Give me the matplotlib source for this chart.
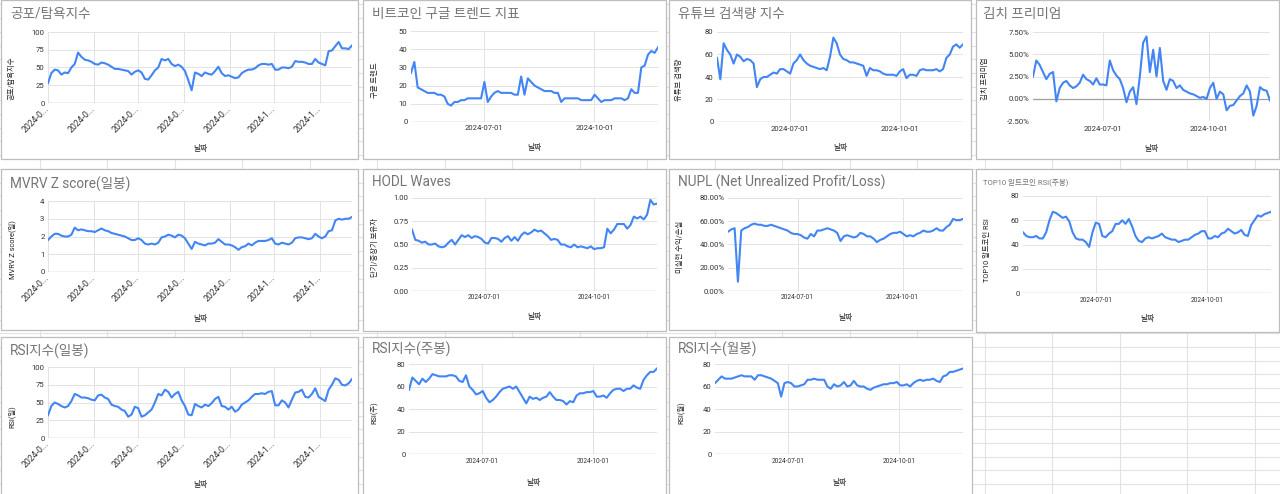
import numpy as np
import pandas as pd
import matplotlib
matplotlib.use("Agg")
import matplotlib.pyplot as plt
import matplotlib.dates as mdates
from matplotlib.patches import Rectangle
from matplotlib.ticker import FuncFormatter

plt.rcParams['font.family'] = ['Roboto', 'Noto Sans CJK KR', 'DejaVu Sans']

# date span shown in every chart
start_date = '2024-05-01'
end_date = '2024-11-23'

# values (roughly every 2-3 days)
fear_greed = [28, 42, 47, 46, 40, 43, 42, 50, 55, 71, 65, 61, 60, 58, 55, 54, 57, 56, 54, 51,
              48, 48, 47, 46, 45, 40, 44, 46, 43, 34, 33, 39, 46, 50, 62, 60, 62, 55, 52, 54,
              51, 45, 32, 18, 43, 41, 38, 43, 41, 40, 45, 51, 42, 38, 39, 37, 35, 36, 42, 45,
              47, 47, 49, 53, 55, 55, 54, 55, 47, 47, 50, 50, 49, 51, 59, 58, 58, 57, 55, 55,
              62, 57, 55, 53, 73, 74, 80, 86, 77, 77, 76, 81]

google_trend = [27, 33, 19, 18, 17, 16, 16, 16, 15, 15, 14, 10, 9, 11, 11, 12, 12, 13, 13, 13,
                13, 13, 22, 11, 14, 16, 17, 16, 16, 16, 16, 15, 15, 25, 15, 24, 22, 20, 19, 18,
                17, 17, 17, 16, 16, 11, 13, 13, 13, 13, 13, 12, 12, 12, 12, 15, 13, 11, 12, 12,
                12, 13, 13, 13, 12, 13, 18, 16, 16, 30, 31, 37, 39, 38, 41]

youtube = [57, 38, 70, 64, 60, 52, 60, 58, 54, 56, 55, 52, 31, 38, 40, 40, 42, 44, 43, 47,
           47, 45, 43, 52, 55, 60, 55, 52, 50, 49, 48, 47, 48, 46, 58, 75, 70, 60, 56, 55,
           53, 53, 52, 51, 50, 41, 48, 46, 46, 45, 43, 42, 42, 42, 41, 45, 47, 39, 42, 42,
           41, 46, 47, 46, 46, 46, 47, 45, 47, 57, 60, 67, 69, 66, 69]

kimchi = [2.5, 4.3, 3.8, 3.0, 2.2, 2.8, 3.0, -0.3, 1.2, 1.8, 2.0, 1.5, 1.2, 1.4, 1.8, 2.7,
          2.2, 2.0, 1.6, 2.3, 1.6, 1.6, 1.5, 4.3, 3.2, 2.6, 2.2, 1.2, -0.4, 0.8, 1.3, -0.6,
          2.5, 6.3, 7.0, 3.0, 5.5, 2.5, 5.7, 2.0, 1.0, 2.2, 2.0, 1.2, 1.5, 1.0, 0.8, 0.6,
          0.5, 0.3, 0.1, 0.2, 0.0, 1.2, 1.8, 0.0, 0.8, 0.5, -1.3, -0.8, -0.7, -0.2, 0.3, 0.6,
          1.5, 0.8, -1.9, -0.8, 1.3, 1.0, 0.9, -0.2]

mvrv = [1.8, 2.0, 2.15, 2.15, 2.05, 2.0, 2.0, 2.1, 2.5, 2.35, 2.4, 2.35, 2.3, 2.3, 2.25, 2.35,
        2.45, 2.35, 2.3, 2.2, 2.15, 2.1, 2.05, 2.0, 1.9, 1.8, 1.8, 1.9, 1.8, 1.6, 1.55, 1.6,
        1.55, 1.65, 1.95, 2.0, 2.1, 2.05, 1.95, 2.1, 2.05, 1.9, 1.6, 1.3, 1.7, 1.6, 1.55, 1.5,
        1.6, 1.6, 1.65, 1.85, 1.7, 1.55, 1.55, 1.5, 1.4, 1.25, 1.4, 1.45, 1.6, 1.5, 1.65, 1.75,
        1.75, 1.75, 1.8, 1.9, 1.6, 1.55, 1.65, 1.6, 1.55, 1.65, 1.9, 1.95, 1.95, 1.9, 1.85, 1.9,
        2.15, 2.0, 1.9, 2.0, 2.3, 2.35, 2.9, 3.0, 2.95, 3.0, 3.0, 3.1]

hodl = [0.66, 0.55, 0.54, 0.52, 0.53, 0.50, 0.50, 0.51, 0.48, 0.47, 0.48, 0.52, 0.55, 0.50,
        0.55, 0.60, 0.58, 0.60, 0.57, 0.59, 0.58, 0.56, 0.52, 0.51, 0.57, 0.57, 0.56, 0.53,
        0.57, 0.59, 0.54, 0.58, 0.54, 0.60, 0.63, 0.61, 0.63, 0.66, 0.64, 0.65, 0.62, 0.59,
        0.55, 0.56, 0.55, 0.50, 0.50, 0.48, 0.47, 0.50, 0.47, 0.48, 0.47, 0.46, 0.48, 0.45,
        0.46, 0.46, 0.47, 0.67, 0.62, 0.66, 0.72, 0.72, 0.72, 0.67, 0.71, 0.80, 0.78, 0.80,
        0.77, 0.82, 0.98, 0.93, 0.94]

nupl = [51, 53, 54, 8, 52, 54, 55, 57, 58, 57, 57, 56, 56, 57, 56, 55, 54, 53, 52, 50,
        49, 49, 48, 46, 45, 49, 47, 52, 52, 53, 54, 53, 52, 50, 43, 47, 48, 47, 46, 47,
        50, 49, 47, 47, 45, 42, 44, 45, 47, 49, 50, 50, 51, 49, 47, 48, 47, 49, 50, 52,
        51, 51, 52, 54, 52, 52, 55, 57, 62, 61, 61, 62]

alt_rsi = [50, 47, 46, 46, 47, 45, 45, 50, 60, 67, 66, 64, 62, 63, 59, 50, 45, 44, 44, 42,
           38, 50, 58, 57, 47, 46, 49, 51, 57, 57, 60, 57, 61, 55, 47, 43, 42, 45, 46, 45,
           46, 47, 49, 46, 45, 44, 44, 42, 43, 44, 44, 46, 48, 49, 51, 51, 45, 45, 47, 46,
           49, 50, 53, 51, 49, 50, 52, 48, 47, 56, 60, 64, 63, 65, 66, 67]

rsi_daily = [32, 45, 50, 48, 45, 43, 45, 52, 62, 60, 57, 57, 56, 54, 53, 60, 61, 57, 55, 47,
             45, 44, 40, 38, 30, 33, 44, 42, 30, 32, 36, 40, 50, 62, 60, 68, 65, 57, 62, 65,
             53, 45, 33, 32, 48, 45, 43, 47, 45, 49, 55, 58, 45, 44, 40, 44, 37, 40, 47, 50,
             53, 58, 62, 62, 63, 62, 65, 66, 46, 46, 53, 50, 43, 54, 64, 65, 68, 58, 57, 62,
             70, 58, 55, 52, 68, 75, 84, 82, 75, 74, 77, 83]

rsi_weekly = [57, 68, 65, 62, 67, 64, 67, 71, 70, 69, 69, 69, 70, 70, 69, 65, 64, 70, 60, 57,
              53, 54, 56, 50, 46, 48, 51, 55, 58, 59, 60, 58, 60, 55, 50, 45, 51, 49, 50, 48,
              50, 51, 55, 51, 48, 48, 47, 44, 47, 46, 52, 54, 54, 55, 55, 56, 51, 51, 52, 50,
              54, 57, 58, 58, 56, 58, 58, 61, 59, 58, 66, 70, 73, 73, 76]

rsi_monthly = [63, 66, 69, 67, 67, 67, 68, 69, 70, 69, 69, 69, 66, 70, 70, 69, 68, 67, 65, 63,
               51, 63, 64, 63, 60, 60, 61, 62, 66, 66, 67, 66, 66, 66, 60, 58, 62, 60, 61, 64,
               60, 61, 65, 61, 60, 60, 58, 57, 59, 60, 61, 62, 62, 63, 63, 64, 61, 61, 62, 60,
               63, 65, 66, 65, 66, 66, 67, 65, 64, 69, 70, 73, 73, 74, 75, 76]

W, H = 1280, 494
BLUE = '#4285f4'

fig = plt.figure(figsize=(12.8, 4.94), dpi=100)
bg = fig.add_axes([0, 0, 1, 1])
bg.set_xlim(0, W)
bg.set_ylim(H, 0)
bg.axis('off')

# spreadsheet cells behind the charts
for x in np.arange(39.5, W, 67.5):
    bg.plot([x, x], [0, H], color='#e2e2e2', lw=0.8, zorder=1)
for y in np.arange(347 - 13.7 * 26, H, 13.7):
    bg.plot([0, W], [y, y], color='#e2e2e2', lw=0.8, zorder=1)

panels = [
    dict(data=fear_greed, box=(0, 0, 358, 160), ax=(48, 32, 352, 103), title='공포/탐욕지수',
         tpos=(10, 14), ylabel='공포/탐욕지수', ylpos=(12, 78), xly=148,
         yt=[0, 25, 50, 75, 100], fmt='{:.0f}', rot=True),
    dict(data=google_trend, box=(362, 0, 666, 160), ax=(411, 31, 658, 122), title='비트코인 구글 트렌드 지표',
         tpos=(372, 14), ylabel='구글 트렌드', ylpos=(375, 80), xly=147,
         yt=[0, 10, 20, 30, 40, 50], fmt='{:.0f}', xts=5.5, xty=129),
    dict(data=youtube, box=(668, 0, 971, 160), ax=(717, 32, 963, 122), title='유튜브 검색량 지수',
         tpos=(678, 14), ylabel='유튜브 검색량', ylpos=(680, 80), xly=147,
         yt=[0, 20, 40, 60, 80], fmt='{:.0f}', xts=5.5, xty=130),
    dict(data=kimchi, box=(975, 0, 1279, 160), ax=(1033, 32, 1270, 121), title='김치 프리미엄',
         tpos=(983, 14), ylabel='김치 프리미엄', ylpos=(985, 79), xly=148,
         yt=[-2.5, 0, 2.5, 5, 7.5], fmt='{:.2f}%', xts=5.5, xty=130),
    dict(data=mvrv, box=(0, 168, 358, 330), ax=(48, 201, 352, 272), title='MVRV Z score(일봉)',
         tpos=(10, 184), ylabel='MVRV Z score(일)', ylpos=(12, 250), xly=318,
         yt=[0, 1, 2, 3, 4], fmt='{:.0f}', rot=True),
    dict(data=hodl, box=(362, 168, 666, 331), ax=(412, 198, 657, 291), title='HODL Waves',
         tpos=(372, 182), ylabel='단기/중장기 보유자', ylpos=(375, 248), xly=316,
         yt=[0, 0.25, 0.5, 0.75, 1.0], fmt='{:.2f}', xts=4.7, xty=297),
    dict(data=nupl, box=(668, 168, 972, 330), ax=(728, 198, 963, 291), title='NUPL (Net Unrealized Profit/Loss)',
         tpos=(678, 182), ylabel='미실현 수익/손실', ylpos=(680, 247), xly=317,
         yt=[0, 20, 40, 60, 80], fmt='{:.2f}%', xts=4.7, xty=297),
    dict(data=alt_rsi, box=(975, 168, 1279, 332), ax=(1023, 196, 1271, 293), title='TOP10 알트코인 RSI(주봉)',
         tpos=(983, 182), tsize=5.5, ylabel='TOP10 알트코인 RSI', ylpos=(988, 250), xly=318,
         yt=[0, 20, 40, 60, 80], fmt='{:.0f}', xts=4.7, xty=300),
    dict(data=rsi_daily, box=(0, 336, 358, 500), ax=(48, 367, 352, 438), title='RSI지수(일봉)',
         tpos=(10, 351), ylabel='RSI(일)', ylpos=(12, 417), xly=484,
         yt=[0, 25, 50, 75, 100], fmt='{:.0f}', rot=True),
    dict(data=rsi_weekly, box=(362, 336, 666, 500), ax=(409, 364, 657, 454), title='RSI지수(주봉)',
         tpos=(372, 349), ylabel='RSI(주)', ylpos=(375, 413), xly=482,
         yt=[0, 20, 40, 60, 80], fmt='{:.0f}', xts=4.7, xty=461),
    dict(data=rsi_monthly, box=(668, 336, 972, 500), ax=(715, 364, 963, 454), title='RSI지수(월봉)',
         tpos=(678, 349), ylabel='RSI(월)', ylpos=(681, 413), xly=482,
         yt=[0, 20, 40, 60, 80], fmt='{:.0f}', xts=4.7, xty=461),
]

t0 = pd.Timestamp(start_date)
t1 = pd.Timestamp(end_date)

for p in panels:
    bx0, by0, bx1, by1 = p['box']
    bg.add_patch(Rectangle((bx0 + 0.5, by0 + 0.5), bx1 - bx0 - 1, by1 - by0 - 1,
                           facecolor='white', edgecolor='#bdbdbd', lw=0.9, zorder=2))
    bg.text(p['tpos'][0], p['tpos'][1], p['title'], fontsize=p.get('tsize', 9.8),
            color='#757575', ha='left', va='center', zorder=3)
    bg.text(p['ylpos'][0], p['ylpos'][1], p['ylabel'], fontsize=5.3, color='#222222',
            rotation=90, ha='center', va='center', zorder=3)
    ax0, ay0, ax1, ay1 = p['ax']
    bg.text((ax0 + ax1) / 2, p['xly'], '날짜', fontsize=5.6, color='#222222',
            ha='center', va='center', zorder=3)

    ax = fig.add_axes([ax0 / W, 1 - ay1 / H, (ax1 - ax0) / W, (ay1 - ay0) / H])
    ax.set_facecolor('none')
    vals = p['data']
    dates = pd.date_range(t0, t1, periods=len(vals))
    ax.plot(dates, vals, color=BLUE, lw=1.5, zorder=3, solid_joinstyle='round')
    ax.set_xlim(t0, t1)
    ax.set_ylim(p['yt'][0], p['yt'][-1])
    ax.set_yticks(p['yt'])
    ax.set_yticklabels([p['fmt'].format(v) for v in p['yt']])
    ax.axhline(0, color='#9e9e9e', lw=0.9, zorder=2)
    ax.grid(True, color='#e3e3e3', lw=0.7, zorder=0)
    for s in ax.spines.values():
        s.set_visible(False)
    ax.tick_params(axis='y', length=0, pad=2.5, labelsize=5.6, labelcolor='#333333')
    if p.get('rot'):
        ax.xaxis.set_major_locator(mdates.MonthLocator())
        ax.xaxis.set_major_formatter(FuncFormatter(
            lambda v, pos: mdates.num2date(v).strftime('%Y-%m-%d')[:6] + '...'))
        ax.tick_params(axis='x', length=0, pad=3.5, labelsize=6.3, labelcolor='#333333')
        for lab in ax.get_xticklabels():
            lab.set_rotation(45)
            lab.set_ha('right')
            lab.set_rotation_mode('anchor')
            lab.set_va('center')
    else:
        ax.xaxis.set_major_locator(mdates.MonthLocator(bymonth=[7, 10]))
        ax.xaxis.set_major_formatter(mdates.DateFormatter('%Y-%m-%d'))
        fs = p['xts']
        pad = (p['xty'] - ay1 - fs * 1.389 / 2) / 1.389
        ax.tick_params(axis='x', length=0, pad=pad, labelsize=fs, labelcolor='#333333')

fig.savefig('out.png', dpi=100)
